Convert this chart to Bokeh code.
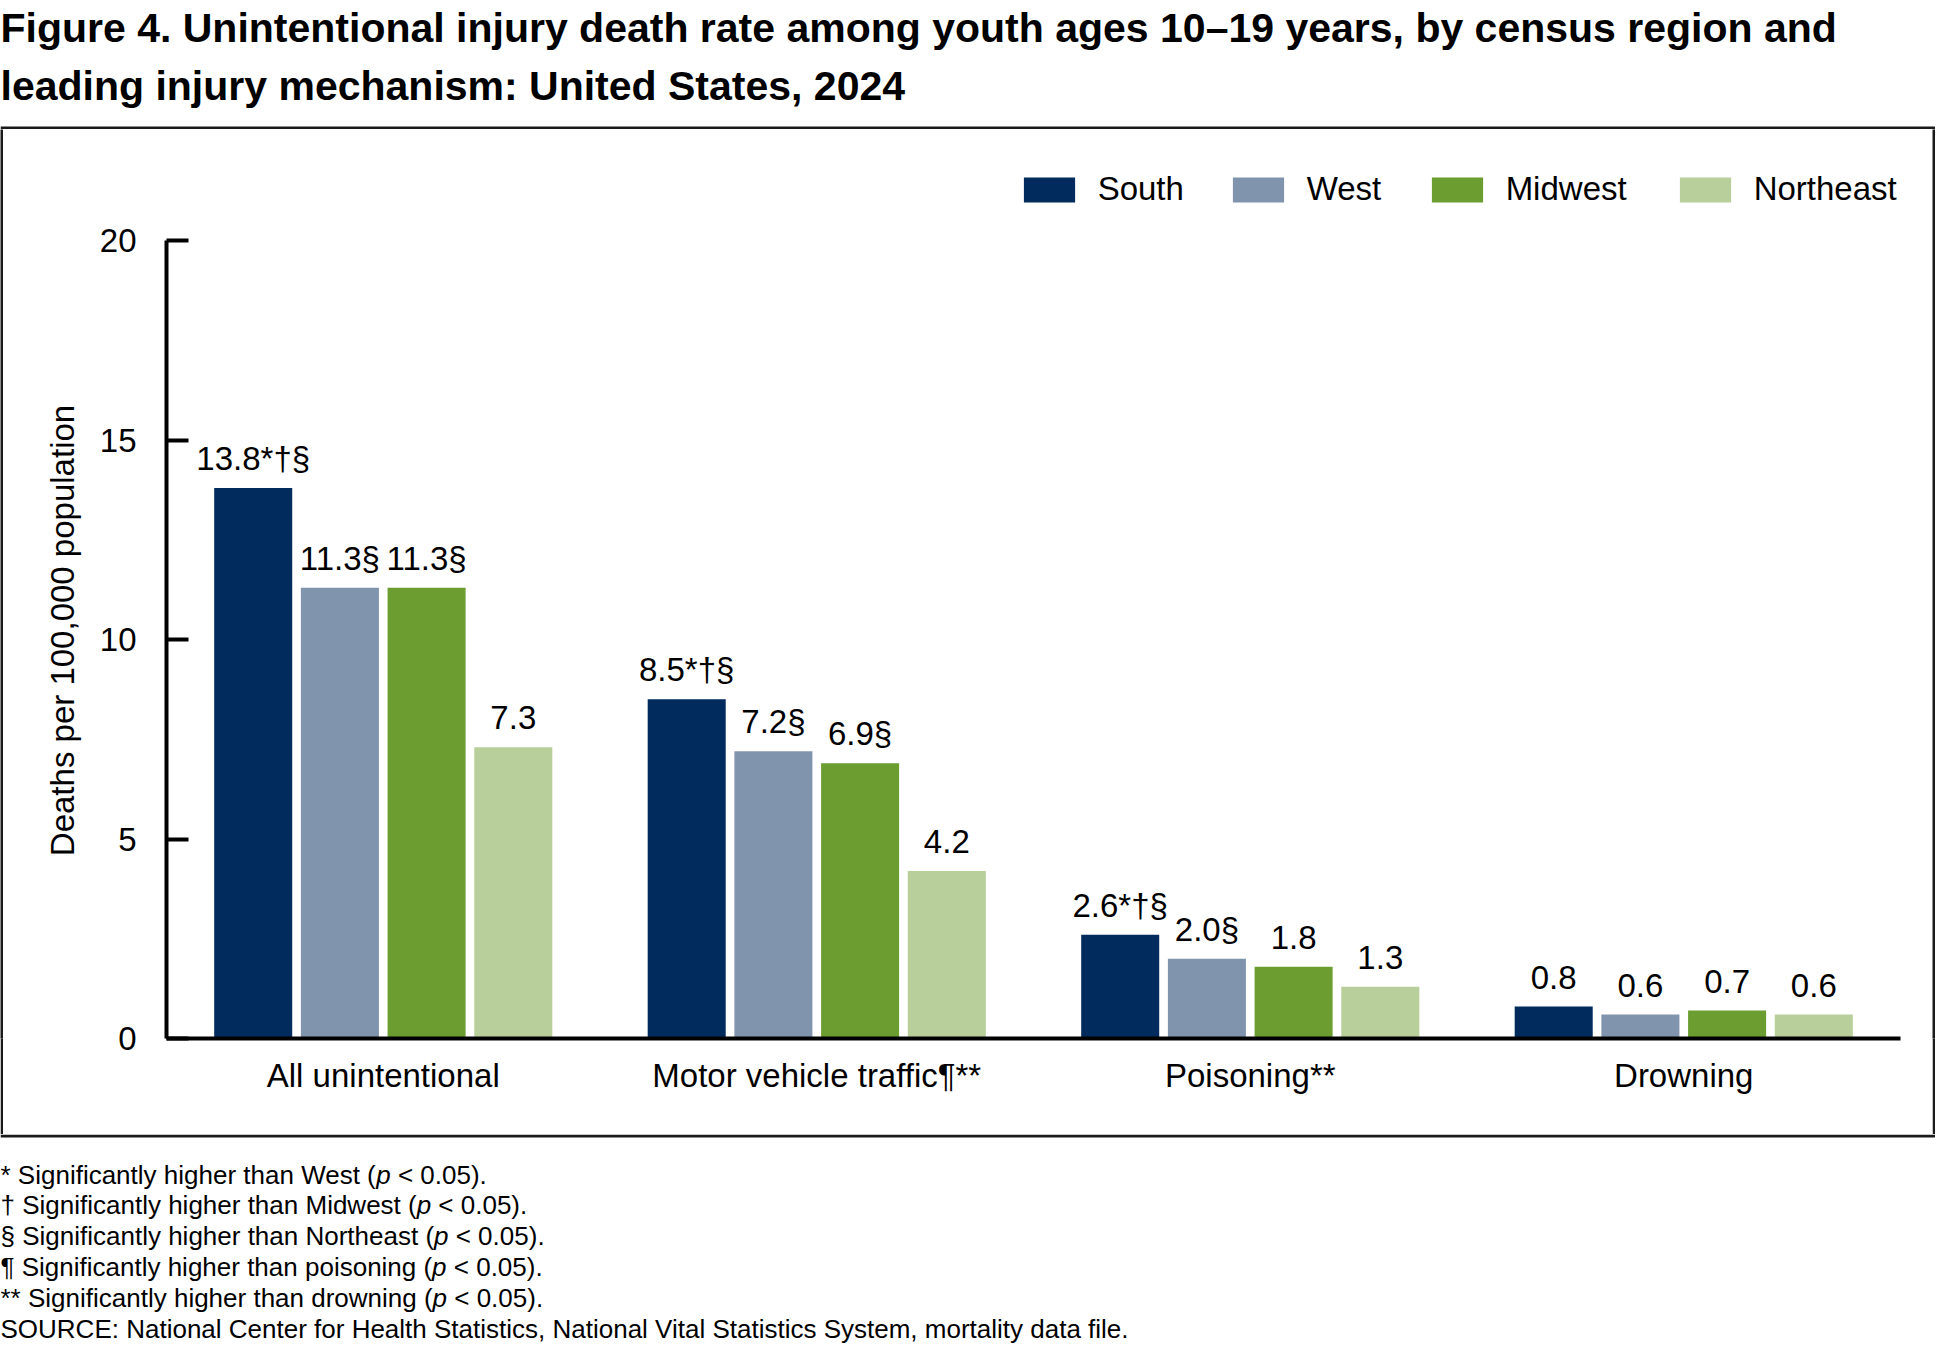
import math
from bokeh.plotting import figure
from bokeh.layouts import column, row
from bokeh.models import (ColumnDataSource, FactorRange, Range1d, FixedTicker, Label,
                          Legend, LegendItem, BoxAnnotation)
from bokeh.transform import dodge
from bokeh.core.properties import value
from bokeh.embed import file_html
from bokeh.resources import INLINE

# ---------------- data ----------------
categories = ["All unintentional", "Motor vehicle traffic¶**", "Poisoning**", "Drowning"]
regions = ["South", "West", "Midwest", "Northeast"]
south = [13.8, 8.5, 2.6, 0.8]
west = [11.3, 7.2, 2.0, 0.6]
midwest = [11.3, 6.9, 1.8, 0.7]
northeast = [7.3, 4.2, 1.3, 0.6]
south_marks = ["*†§", "*†§", "*†§", ""]
west_marks = ["§", "§", "§", ""]
midwest_marks = ["§", "§", "", ""]
northeast_marks = ["", "", "", ""]
y_ticks = [0, 5, 10, 15, 20]
y_label = "Deaths per 100,000 population"
title_lines = [
    "Figure 4. Unintentional injury death rate among youth ages 10–19 years, by census region and",
    "leading injury mechanism: United States, 2024",
]
footnote_parts = [
    ("* Significantly higher than West (", "p", " < 0.05)."),
    ("† Significantly higher than Midwest (", "p", " < 0.05)."),
    ("§ Significantly higher than Northeast (", "p", " < 0.05)."),
    ("¶ Significantly higher than poisoning (", "p", " < 0.05)."),
    ("** Significantly higher than drowning (", "p", " < 0.05)."),
]
source_note = "SOURCE: National Center for Health Statistics, National Vital Statistics System, mortality data file."

# ---------------- styles / geometry (canvas px) ----------------
colors = ["#002B5C", "#8194AE", "#6B9D31", "#B8CF9B"]
EDGE = "#1a1a1a"
FONT = "Liberation Sans"
W, H = 1935, 1343
MAIN_FS = "33px"
FN = 26

E = 3                       # box edge thickness
T_H = 129                   # title band incl. top edge
M_TOP = T_H                 # 129
M_BOT = 1134
M_H = M_BOT - M_TOP         # 1005
F_TOP = M_BOT               # footnote band incl. bottom edge
F_H = H - F_TOP             # 209
ROW_W = W
YL_W = 87                   # y-label strip
MAIN_X0 = E + YL_W          # 90
M_W = ROW_W - 2 * E - YL_W  # 1842

FRAME_L, FRAME_R = 166, 1900
FRAME_B, Y20 = 1038, 240
y_end = 20.0 * (FRAME_B - M_TOP) / (FRAME_B - Y20)


def bare(w, h, fill="white"):
    f = figure(width=w, height=h, output_backend="svg", toolbar_location=None,
               x_range=Range1d(0, 1), y_range=Range1d(0, 1),
               x_axis_location=None, y_axis_location=None, min_border=0)
    f.grid.visible = False
    f.outline_line_color = None
    f.background_fill_color = fill
    f.border_fill_color = fill
    return f


def edge_box(bottom, top, left, right):
    return BoxAnnotation(bottom=bottom, top=top, left=left, right=right,
                         bottom_units="screen", top_units="screen",
                         left_units="screen", right_units="screen",
                         fill_color=EDGE, fill_alpha=1, line_color=None)


ARIAL = {' ': 278, '*': 389, 'S': 667, 'i': 222, 'g': 556, 'n': 556, 'f': 278, 'c': 500,
         'a': 556, 't': 278, 'l': 222, 'y': 500, 'h': 556, 'e': 556, 'r': 333, 'W': 944,
         's': 500, '(': 333, '†': 556, 'M': 833, 'd': 556, 'w': 722, '§': 556, 'N': 722,
         'o': 556, '¶': 537, 'p': 556, 'm': 833, '<': 584, '0': 556, '.': 278, '5': 556,
         ')': 333}


def text_w(s, size):
    return sum(ARIAL.get(ch, 556) for ch in s) * size / 1000.0


# ---------------- title (+ top edge of box) ----------------
tfig = bare(W, T_H)
for line, cy in zip(title_lines, [27, 85]):
    tfig.add_layout(Label(x=0, y=T_H - cy, x_units="screen", y_units="screen", text=line,
                          text_font=FONT, text_font_style="bold", text_font_size="41px",
                          text_color="black", text_baseline="middle", text_align="left"))
tfig.add_layout(edge_box(0, E, 0, ROW_W))

# ---------------- y label strip ----------------
yfig = bare(YL_W, M_H)
yfig.add_layout(Label(x=62 - E, y=M_H - (726 - M_TOP), x_units="screen", y_units="screen",
                      text=y_label, angle=math.pi / 2, text_font=FONT,
                      text_font_size=MAIN_FS, text_color="black",
                      text_baseline="middle", text_align="center"))

# ---------------- main chart ----------------
p = figure(width=M_W, height=M_H, output_backend="svg", toolbar_location=None,
           x_range=FactorRange(factors=categories, range_padding=0),
           y_range=Range1d(0, y_end),
           min_border_left=FRAME_L - MAIN_X0, min_border_top=0,
           min_border_right=(MAIN_X0 + M_W) - FRAME_R, min_border_bottom=M_BOT - FRAME_B)
p.outline_line_color = None
p.xgrid.grid_line_color = None
p.ygrid.grid_line_color = None

offsets = [-0.3, -0.1, 0.1, 0.3]
series = [south, west, midwest, northeast]
marks = [south_marks, west_marks, midwest_marks, northeast_marks]
renderers = []
for i, reg in enumerate(regions):
    src = ColumnDataSource(dict(cat=categories, val=series[i],
                                lab=[f"{v:.1f}{m}" for v, m in zip(series[i], marks[i])]))
    r = p.vbar(x=dodge("cat", offsets[i], range=p.x_range), top="val", bottom=0, width=0.18,
               source=src, fill_color=colors[i], line_color=None)
    renderers.append(r)
    p.text(x=dodge("cat", offsets[i], range=p.x_range), y="val", text="lab", source=src,
           text_align="center", text_baseline="middle", y_offset=-29.5,
           text_font=value(FONT), text_font_size=MAIN_FS, text_color="black")

yax = p.yaxis[0]
yax.bounds = (0, 20)
yax.ticker = FixedTicker(ticks=y_ticks)
yax.minor_tick_line_color = None
yax.major_tick_in = 22
yax.major_tick_out = 0
yax.major_tick_line_width = 4
yax.major_tick_line_color = "black"
yax.axis_line_width = 4
yax.axis_line_color = "black"
yax.major_label_standoff = 30
yax.major_label_text_font = FONT
yax.major_label_text_font_size = MAIN_FS
yax.major_label_text_color = "black"

xax = p.xaxis[0]
xax.major_tick_line_color = None
xax.minor_tick_line_color = None
xax.major_tick_in = 0
xax.major_tick_out = 0
xax.axis_line_width = 4
xax.axis_line_color = "black"
xax.major_label_standoff = 18
xax.major_label_text_font = FONT
xax.major_label_text_font_size = MAIN_FS
xax.major_label_text_color = "black"

# legend: one per item so each sits where the original has it
GW, GH = 51 / 0.8, 25 / 0.8
box_x = [1023, 1232, 1431, 1679]
for i, reg in enumerate(regions):
    lg = Legend(items=[LegendItem(label=reg, renderers=[renderers[i]])],
                location=(box_x[i] - 0.1 * GW - FRAME_L, FRAME_B - 208),
                orientation="horizontal",
                glyph_width=int(round(GW)), glyph_height=int(round(GH)), label_standoff=17,
                label_height=25, padding=0, margin=0, spacing=0, border_line_color=None,
                background_fill_alpha=0, label_text_font=FONT,
                label_text_font_size=MAIN_FS, label_text_color="black")
    p.add_layout(lg, "center")

# ---------------- footnotes (+ bottom edge of box) ----------------
ffig = bare(W, F_H)
ffig.add_layout(edge_box(F_H - E, F_H, 0, ROW_W))
centers = [1174 + 30.8 * k for k in range(6)]
for (pre, it, post), cy in zip(footnote_parts, centers):
    x0 = 0
    for txt, style in [(pre, "normal"), (it, "italic"), (post, "normal")]:
        lead = len(txt) - len(txt.lstrip(" "))
        x0 += text_w(" " * lead, FN)
        ffig.add_layout(Label(x=x0, y=F_H - (cy - F_TOP), x_units="screen", y_units="screen",
                              text=txt.lstrip(" "), text_font=FONT, text_font_style=style,
                              text_font_size=f"{FN}px", text_color="black",
                              text_baseline="middle", text_align="left"))
        x0 += text_w(txt.lstrip(" "), FN)
ffig.add_layout(Label(x=0, y=F_H - (centers[-1] - F_TOP), x_units="screen", y_units="screen",
                      text=source_note, text_font=FONT, text_font_size=f"{FN}px",
                      text_color="black", text_baseline="middle", text_align="left"))

# ---------------- side edges of box ----------------
left_edge = bare(E, M_H, EDGE)
right_edge = bare(E, M_H, EDGE)

layout = column(tfig, row(left_edge, yfig, p, right_edge), ffig)

open("out.html", "w").write(file_html(layout, INLINE))
